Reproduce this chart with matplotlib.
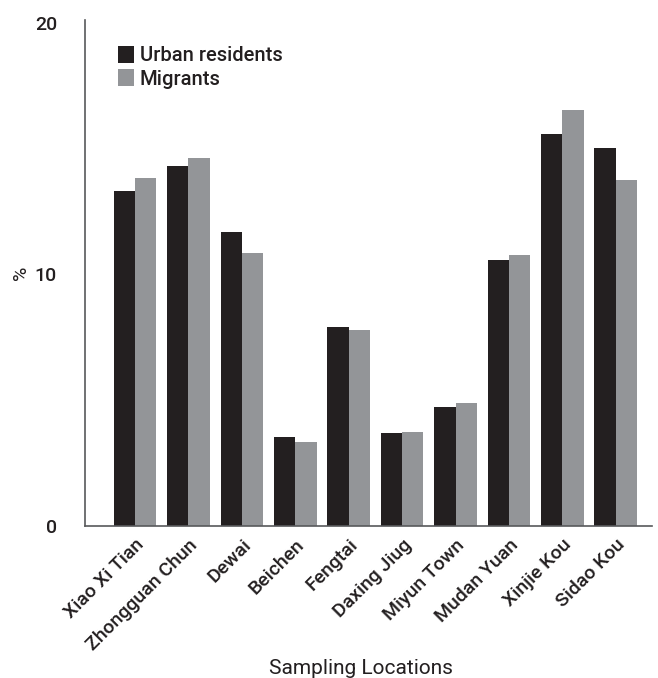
import numpy as np
import matplotlib.pyplot as plt

plt.rcParams['font.family'] = ['Roboto', 'DejaVu Sans']
plt.rcParams['font.weight'] = 'medium'

locations = ['Xiao Xi Tian', 'Zhongguan Chun', 'Dewai', 'Beichen', 'Fengtai',
             'Daxing Jiug', 'Miyun Town', 'Mudan Yuan', 'Xinjie Kou', 'Sidao Kou']
urban = [13.33, 14.33, 11.67, 3.53, 7.9, 3.69, 4.72, 10.56, 15.6, 15.04]
migrants = [13.85, 14.64, 10.87, 3.33, 7.78, 3.73, 4.88, 10.79, 16.55, 13.77]

dark = '#231f20'
grey = '#939598'
txt = '#231f20'

fig = plt.figure(figsize=(6.58, 6.78), dpi=100)
ax = fig.add_axes([0.129, 0.224, 0.862, 0.746])

x = np.arange(len(locations))
w = 0.4
ax.bar(x - w/2, urban, w, color=dark, label='Urban residents')
ax.bar(x + w/2, migrants, w, color=grey, label='Migrants')

ax.set_xlim(-0.94, 9.68)
ax.set_ylim(0, 20.1)
ax.set_yticks([0, 10, 20])
ax.set_yticklabels(['0', '10', '20'], fontsize=14, color=txt)
ax.set_xticks(x)
ax.set_xticklabels(locations, rotation=45, ha='right', rotation_mode='anchor',
                   fontsize=14, color=txt)
ax.tick_params(axis='both', length=0)
ax.tick_params(axis='y', pad=20)
ax.tick_params(axis='x', pad=7)

for s in ['top', 'right']:
    ax.spines[s].set_visible(False)
for s in ['left', 'bottom']:
    ax.spines[s].set_color('#58595b')
    ax.spines[s].set_linewidth(1.2)

ax.set_ylabel('%', fontsize=14, color=txt)
ax.yaxis.set_label_coords(-0.097, 0.5)
ax.set_xlabel('Sampling Locations', fontsize=15, color=txt)
ax.xaxis.set_label_coords(0.487, -0.262)

leg = ax.legend(loc='upper left', bbox_to_anchor=(0.045, 0.965), frameon=False, fontsize=14.5,
                handlelength=0.75, handleheight=0.9, handletextpad=0.3, labelspacing=0.2,
                borderaxespad=0)
for t in leg.get_texts():
    t.set_color(txt)

fig.savefig('out.png', dpi=100)
